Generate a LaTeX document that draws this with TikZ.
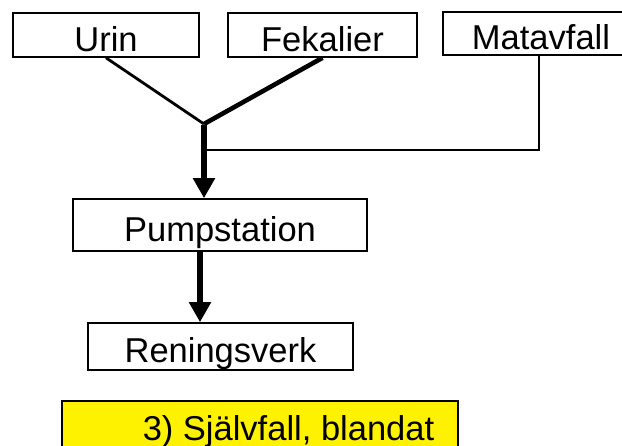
\documentclass[tikz,border=0pt]{standalone}
\usepackage{fontspec}
\setmainfont{Liberation Sans}
\usetikzlibrary{arrows.meta}
\begin{document}
\begin{tikzpicture}[x=1pt,y=-1pt,
  box/.style={draw=black,line width=1.6pt,rectangle,inner sep=0pt,
    text height=33pt,text depth=0pt,
    font=\fontsize{34.5}{40}\selectfont},
  thick connector/.style={line width=5.5pt,draw=black},
  flow/.style={thick connector,-{Triangle[length=20pt,width=21pt]}},
  thin connector/.style={line width=1.8pt,draw=black}
]
\useasboundingbox (0,0) rectangle (622,446);
\clip (0,0) rectangle (622,446);
% top boxes
\node[box,minimum width=186pt,minimum height=44pt] (urin) at (106,35) {Urin};
\node[box,minimum width=189pt,minimum height=44pt] (fek) at (322.5,35) {Fekalier};
\node[box,minimum width=196pt,minimum height=43pt] (mat) at (541,33.5) {Matavfall};
% process boxes
\node[box,minimum width=294pt,minimum height=52pt] (pump) at (220,225) {Pumpstation};
\node[box,minimum width=265pt,minimum height=47pt] (ren) at (220.5,346.5) {Reningsverk};
% caption box
\node[draw=black,line width=1.6pt,fill=yellow,rectangle,inner sep=0pt,
  minimum width=396pt,minimum height=50pt] (cap) at (260,426) {};
\node[anchor=base,inner sep=0pt,font=\fontsize{34.5}{40}\selectfont] (captext) at (288.5,441) {3) Självfall, blandat};
% junctions
\coordinate (j) at (204,124);
\coordinate (m) at (204,150);
% connectors
\draw[line width=2.8pt] (urin.south) -- (j);
\draw[line width=4.6pt] (fek.south) -- (j);
\draw[thin connector] ([xshift=-2pt]mat.south) |- (m);
\draw[flow] ([yshift=-1pt]j) -- (j |- pump.north);
\draw[flow] ([xshift=-20pt]pump.south) -- ([xshift=-20.5pt]ren.north);
\end{tikzpicture}
\end{document}
